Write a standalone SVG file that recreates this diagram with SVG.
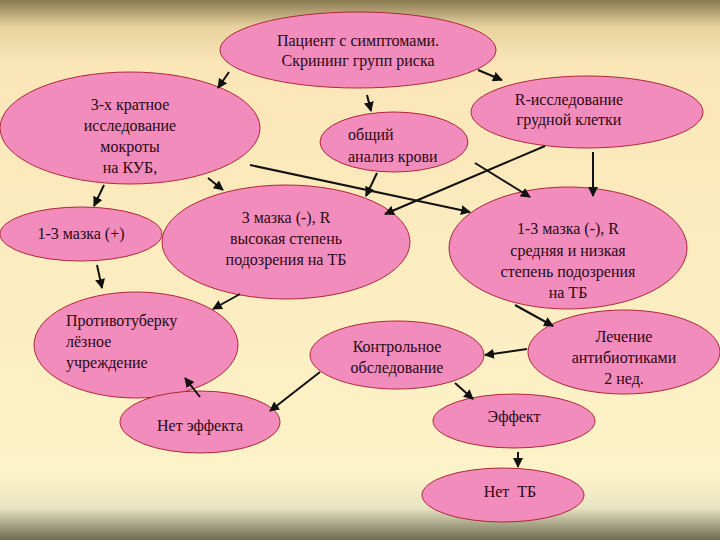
<svg xmlns="http://www.w3.org/2000/svg" width="720" height="540" viewBox="0 0 720 540">
<defs>
<linearGradient id="bg" x1="0" y1="0" x2="0" y2="1">
<stop offset="0" stop-color="#8a7a50"/>
<stop offset="0.05" stop-color="#e8d3a0"/>
<stop offset="0.12" stop-color="#fbe6b8"/>
<stop offset="0.88" stop-color="#fdf3c8"/>
<stop offset="0.94" stop-color="#e8e4c4"/>
<stop offset="1" stop-color="#6e6a50"/>
</linearGradient>
<marker id="a" viewBox="0 0 10 10" refX="9" refY="5" markerWidth="5" markerHeight="5" orient="auto">
<path d="M0,0 L10,5 L0,10 z" fill="#111"/>
</marker>
<style>
.n ellipse{fill:#f28cbc;stroke:#b02838;stroke-width:1}
.n text{font-family:"Liberation Serif","Times New Roman","DejaVu Serif",serif;font-size:16px;fill:#2a0a14;text-anchor:middle}
.n text.l{text-anchor:start}
.c line{stroke:#111;stroke-width:2;marker-end:url(#a)}
</style>
</defs>
<rect width="720" height="540" fill="url(#bg)"/>
<g id="n1" class="n"><ellipse cx="358" cy="50" rx="138" ry="38"/><text x="358" y="46">Пациент с симптомами.</text><text x="358" y="66">Скрининг групп риска</text></g>
<g id="n2" class="n"><ellipse cx="130" cy="128" rx="130" ry="56"/><text x="130" y="110">3-х кратное</text><text x="130" y="131">исследование</text><text x="130" y="152">мокроты</text><text x="130" y="173">на КУБ,</text></g>
<g id="n3" class="n"><ellipse cx="394" cy="142" rx="74" ry="30"/><text class="l" x="348" y="140">общий</text><text class="l" x="348" y="162">анализ крови</text></g>
<g id="n4" class="n"><ellipse cx="587" cy="112" rx="116" ry="36"/><text x="569" y="105">R-исследование</text><text x="569" y="125">грудной клетки</text></g>
<g id="n5" class="n"><ellipse cx="81" cy="234" rx="81" ry="27"/><text x="81" y="239">1-3 мазка (+)</text></g>
<g id="n6" class="n"><ellipse cx="286" cy="242" rx="124" ry="57"/><text x="286" y="223">3 мазка (-), R</text><text x="286" y="244">высокая степень</text><text x="286" y="265">подозрения на ТБ</text></g>
<g id="n7" class="n"><ellipse cx="568" cy="248" rx="119" ry="61"/><text x="568" y="234">1-3 мазка (-), R</text><text x="568" y="256">средняя и низкая</text><text x="568" y="277">степень подозрения</text><text x="568" y="298">на ТБ</text></g>
<g id="n8" class="n"><ellipse cx="136" cy="345" rx="102" ry="53"/><text class="l" x="66" y="326">Противотуберку</text><text class="l" x="66" y="347">лёзное</text><text class="l" x="66" y="368">учреждение</text></g>
<g id="n9" class="n"><ellipse cx="397" cy="355" rx="87" ry="34"/><text x="397" y="352">Контрольное</text><text x="397" y="373">обследование</text></g>
<g id="n10" class="n"><ellipse cx="624" cy="352" rx="96" ry="42"/><text x="624" y="342">Лечение</text><text x="624" y="363">антибиотиками</text><text x="624" y="384">2 нед.</text></g>
<g id="n11" class="n"><ellipse cx="200" cy="422" rx="80" ry="31"/><text x="200" y="431">Нет эффекта</text></g>
<g id="n12" class="n"><ellipse cx="514" cy="421" rx="81" ry="27"/><text x="514" y="422">Эффект</text></g>
<g id="n13" class="n"><ellipse cx="503" cy="495" rx="81" ry="27"/><text x="510" y="497" xml:space="preserve">Нет  ТБ</text></g>
<g class="c">
<line x1="229" y1="72" x2="218" y2="88"/>
<line x1="367" y1="95" x2="371" y2="111"/>
<line x1="478" y1="70" x2="502" y2="80"/>
<line x1="208" y1="178" x2="223" y2="190"/>
<line x1="104" y1="185" x2="94" y2="206"/>
<line x1="250" y1="165" x2="470" y2="212"/>
<line x1="377" y1="173" x2="366" y2="196"/>
<line x1="545" y1="146" x2="385" y2="214"/>
<line x1="475" y1="163" x2="530" y2="197"/>
<line x1="593" y1="152" x2="593" y2="196"/>
<line x1="97" y1="265" x2="102" y2="288"/>
<line x1="240" y1="294" x2="213" y2="309"/>
<line x1="515" y1="305" x2="553" y2="326"/>
<line x1="527" y1="349" x2="485" y2="355"/>
<line x1="320" y1="372" x2="270" y2="411"/>
<line x1="455" y1="383" x2="473" y2="399"/>
<line x1="200" y1="397" x2="185" y2="378"/>
<line x1="518" y1="452" x2="518" y2="467"/>
</g>
</svg>
